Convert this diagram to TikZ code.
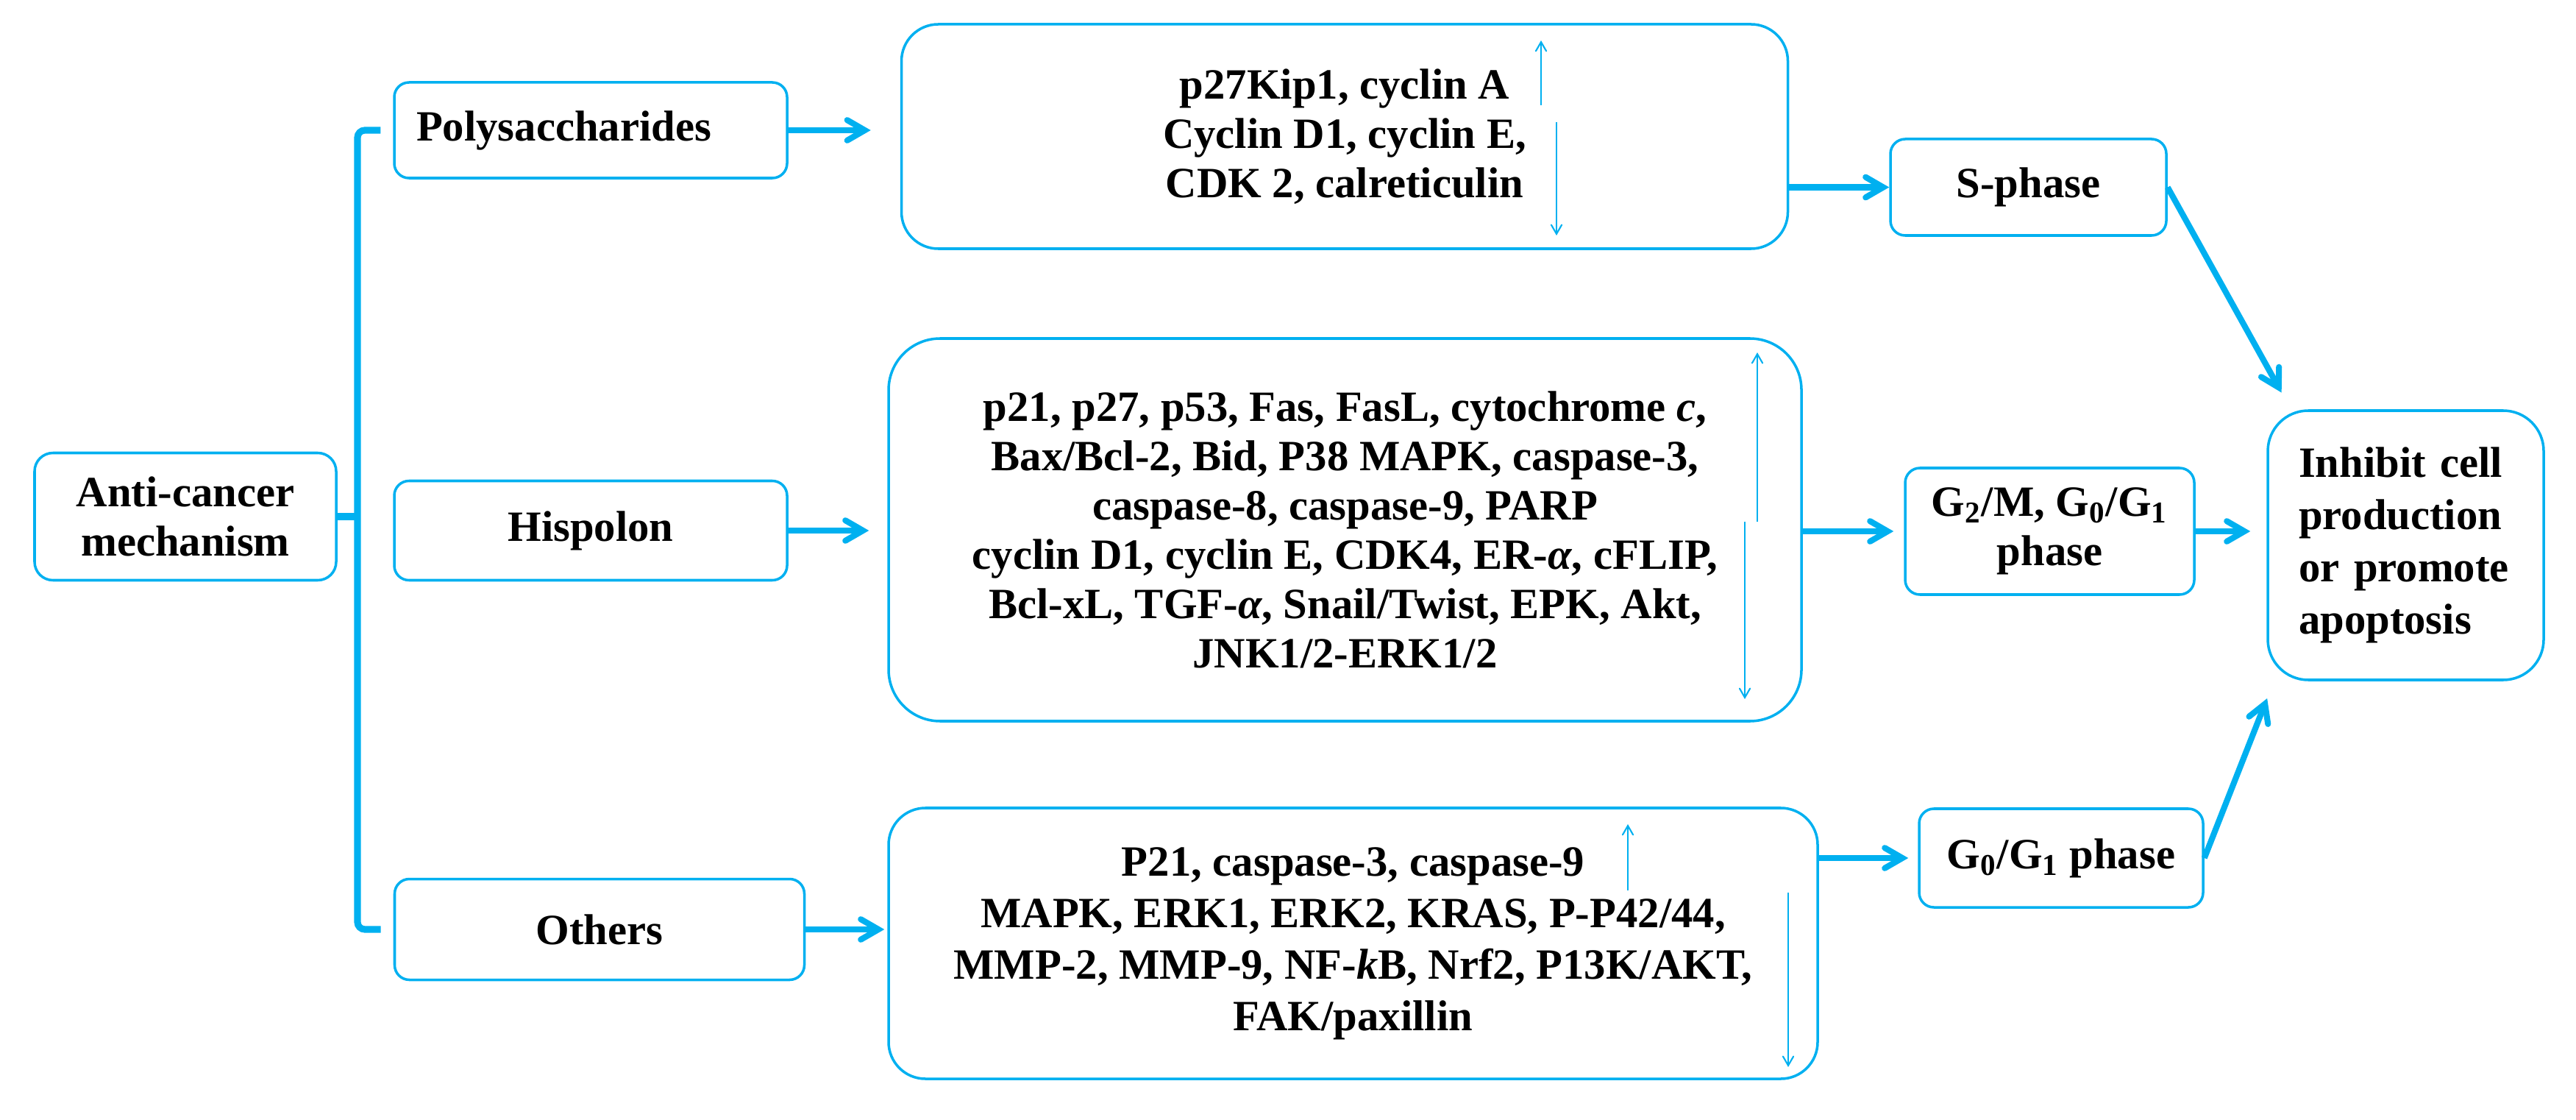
\documentclass[tikz,border=0pt]{standalone}
\usepackage{fontspec}
\setmainfont{Liberation Serif}
\usetikzlibrary{arrows,calc}
\definecolor{flowblue}{RGB}{0,176,240}

\begin{document}
\begin{tikzpicture}[
			box/.style={draw=flowblue,line width=1pt,rounded corners=2mm,
			align=center,inner sep=0pt,
			font=\bfseries\fontsize{16.7}{19.1}\selectfont},
			flow/.style={>=angle 60,draw=flowblue,line width=2.3pt,->},
			updown/.style={>=angle 60,draw=flowblue,line width=0.6pt,->},
			bracket/.style={draw=flowblue,line width=2.6pt,rounded corners=1mm}
			]
			\useasboundingbox (0,0) rectangle (35.02,-15.22);
			\node[box,minimum width=4.10cm,minimum height=1.73cm,rounded corners=2.5mm]
				(anti) at (2.52,-7.02) {Anti-cancer\\mechanism};
			\node[box,minimum width=5.34cm,minimum height=1.30cm,
				text width=4.74cm,align=left,inner xsep=0.3cm]
				(poly) at (8.03,-1.77) {Polysaccharides};
			\node[box,minimum width=5.34cm,minimum height=1.35cm]
				(hisp) at (8.03,-7.21) {Hispolon};
			\node[box,minimum width=5.57cm,minimum height=1.37cm]
				(others) at (8.15,-12.63) {Others};
			\node[box,minimum width=12.05cm,minimum height=3.05cm,rounded corners=5mm]
				(polyeff) at (18.28,-1.855)
				{p27Kip1, cyclin A\\Cyclin D1, cyclin E,\\CDK 2, calreticulin};
			\node[box,minimum width=12.41cm,minimum height=5.20cm,rounded corners=7mm]
				(hispeff) at (18.285,-7.20)
				{p21, p27, p53, Fas, FasL, cytochrome \textit{c},\\
				Bax/Bcl-2, Bid, P38 MAPK, caspase-3,\\
				caspase-8, caspase-9, PARP\\
				cyclin D1, cyclin E, CDK4, ER-\textit{α}, cFLIP,\\
				Bcl-xL, TGF-\textit{α}, Snail/Twist, EPK, Akt,\\
				JNK1/2-ERK1/2};
			\node[box,minimum width=12.63cm,minimum height=3.68cm,rounded corners=5mm,
				font=\bfseries\fontsize{16.7}{19.9}\selectfont]
				(otheff) at (18.395,-12.82)
				{P21, caspase-3, caspase-9\\
				MAPK, ERK1, ERK2, KRAS, P-P42/44,\\
				MMP-2, MMP-9, NF-\textit{k}B, Nrf2, P13K/AKT,\\
				FAK/paxillin};
			\node[box,minimum width=3.75cm,minimum height=1.31cm]
				(sphase) at (27.575,-2.545) {S-phase};
			\node[box,minimum width=3.93cm,minimum height=1.72cm]
				(gtwo) at (27.865,-7.22)
				{G\textsubscript{2}/M, G\textsubscript{0}/G\textsubscript{1}\\phase};
			\node[box,minimum width=3.86cm,minimum height=1.34cm]
				(gzero) at (28.02,-11.66) {G\textsubscript{0}/G\textsubscript{1} phase};
			\node[box,minimum width=3.75cm,minimum height=3.66cm,rounded corners=5.5mm,
				text width=2.91cm,align=left,inner xsep=0.42cm,
				font=\bfseries\fontsize{16.7}{20.2}\selectfont]
				(inhibit) at (32.705,-7.41)
				{Inhibit cell\\production\\or promote\\apoptosis};
			% bracket
			\coordinate (spine) at (4.86,-7.10);
			\draw[bracket] ([xshift=-0.17cm]poly.west) -- (poly.west -| spine)
				-- (others.west -| spine) -- ([xshift=-0.17cm]others.west);
			\draw[bracket] (anti.east) -- (anti.east -| spine);
			% arrows
			\draw[flow,shorten >=0.4cm] (poly.east) -- (poly.east -| polyeff.west);
			\draw[flow,shorten >=0.25cm] (hisp.east) -- (hisp.east -| hispeff.west);
			\draw[flow,shorten >=0.04cm] (others.east) -- (others.east -| otheff.west);
			\draw[flow] (polyeff.east |- sphase.west) -- (sphase.west);
			\draw[flow,shorten >=0.14cm] (hispeff.east |- gtwo.west) -- (gtwo.west);
			\draw[flow,shorten >=0.13cm] (otheff.east |- gzero.west) -- (gzero.west);
			\draw[flow,shorten >=0.26cm] (sphase.east) -- ($(inhibit.north west)+(0.33,0)$);
			\draw[flow,shorten >=0.22cm] (gtwo.east) -- (gtwo.east -| inhibit.west);
			\draw[flow,shorten >=0.25cm] (gzero.east) -- ($(inhibit.south west)+(0.10,0)$);
			% up and down
			\foreach \x/\ya/\yb in {20.95/-1.43/-0.55, 21.16/-1.66/-3.20,
				23.89/-7.09/-4.79, 23.72/-7.09/-9.50,
				22.13/-12.10/-11.20, 24.31/-12.13/-14.50}
				\draw[updown] (\x,\ya) -- (\x,\yb);
		\end{tikzpicture}
\end{document}
